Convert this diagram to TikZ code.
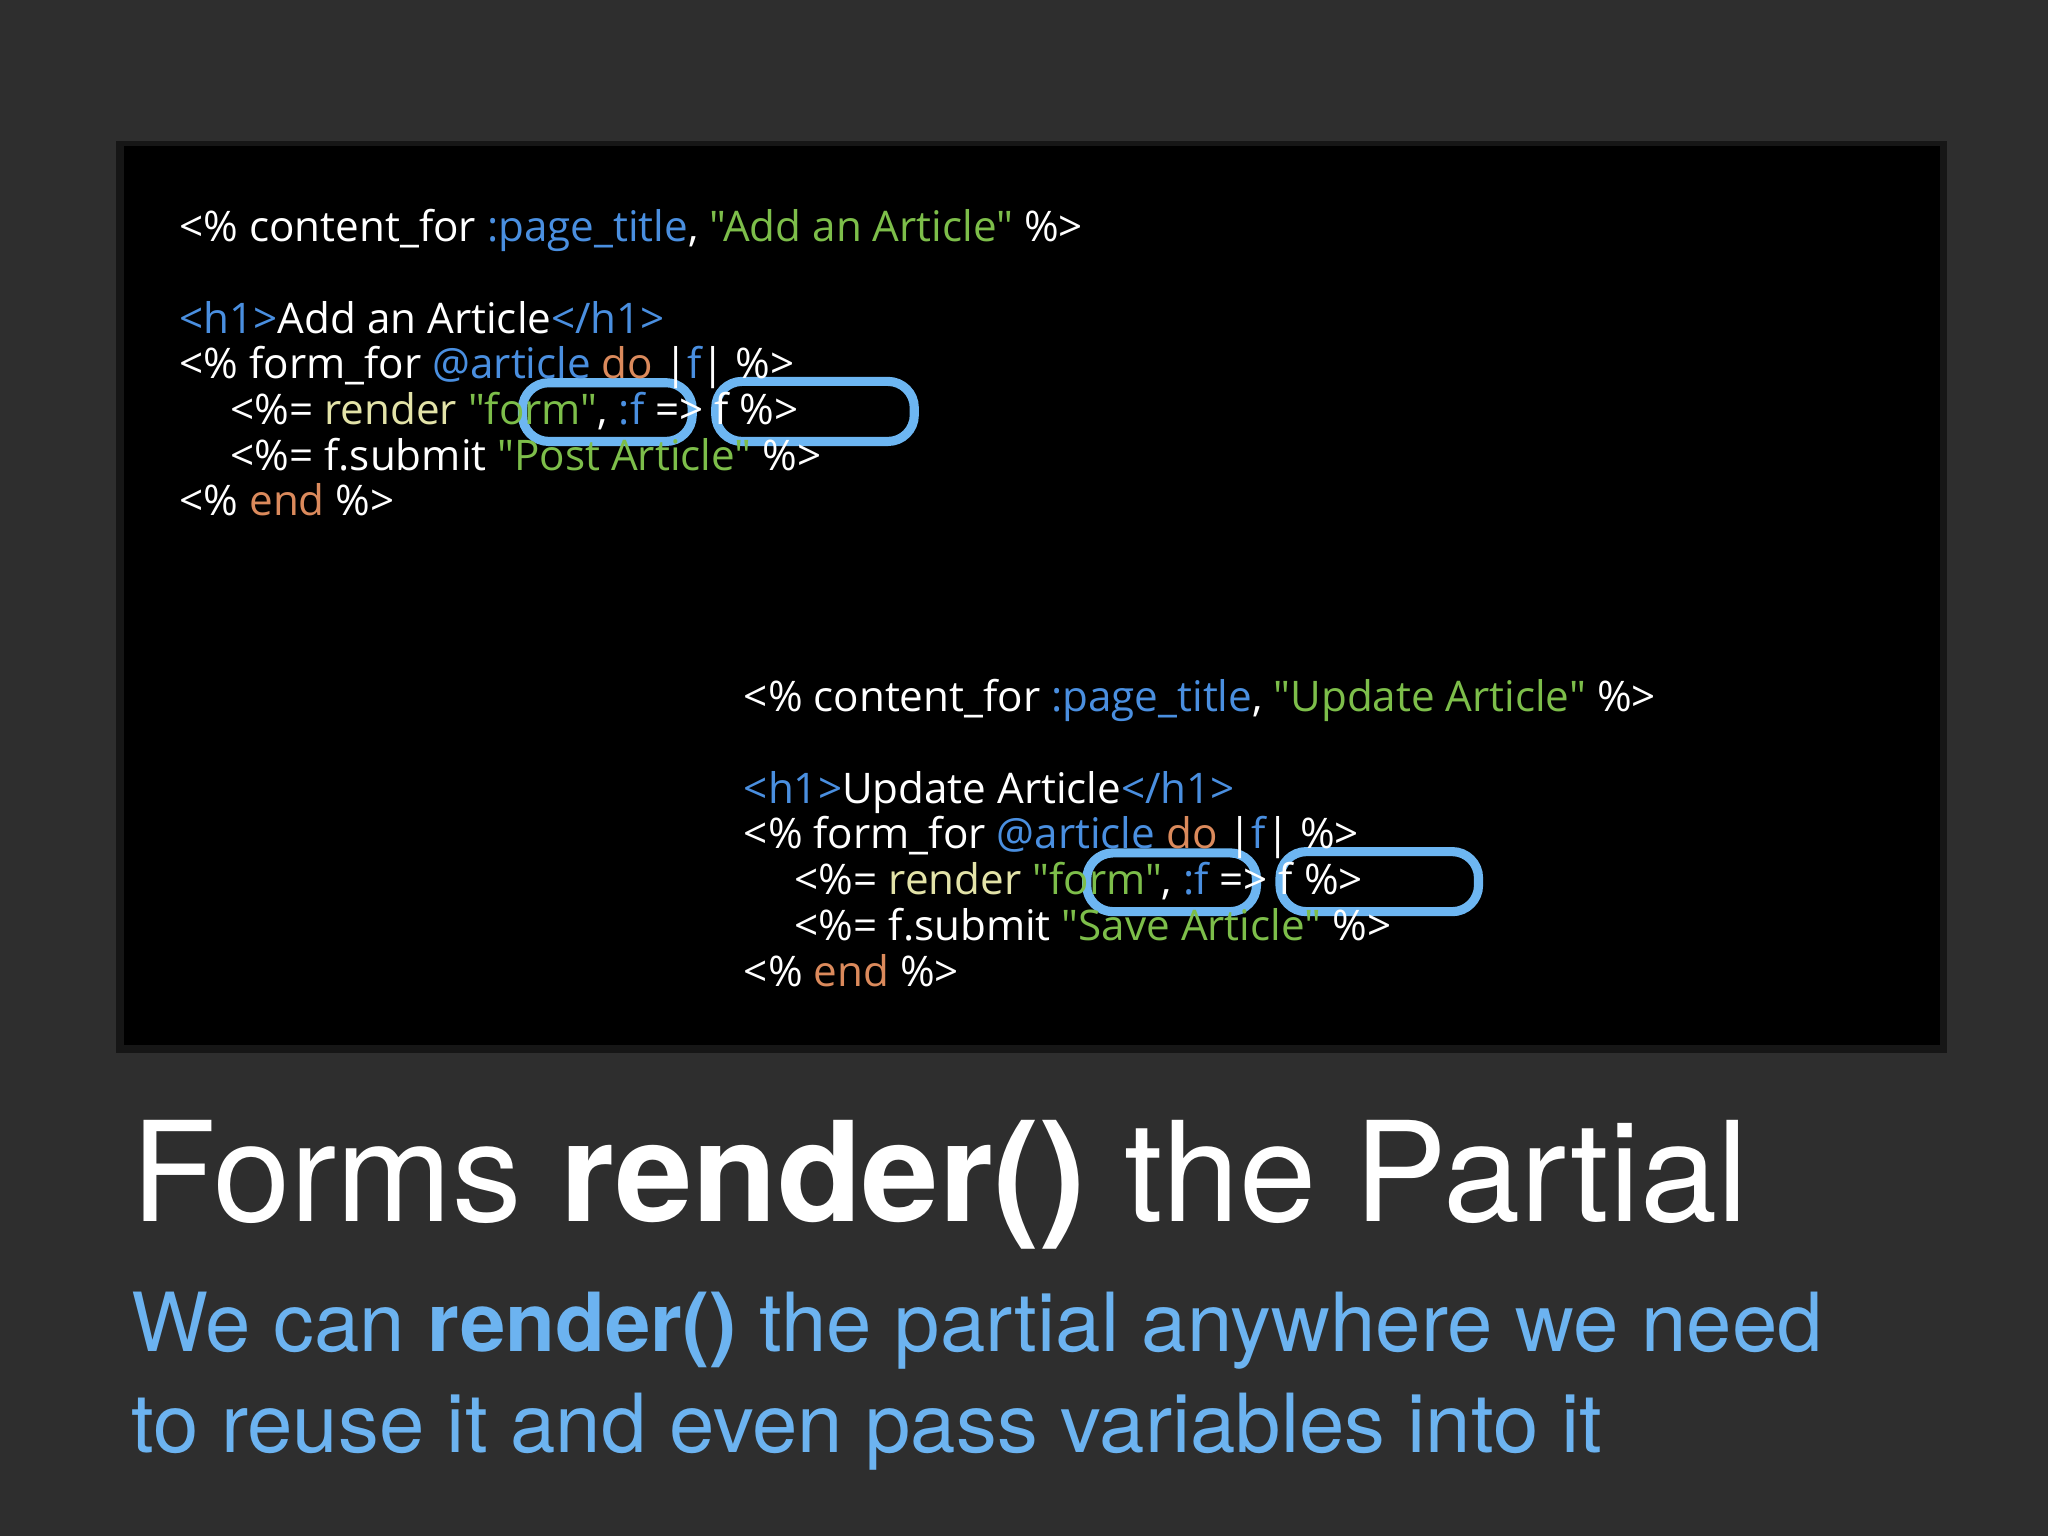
\documentclass[tikz,border=0pt]{standalone}
\usepackage{fontspec}
\setmainfont{Liberation Sans}
\newfontfamily\codefont{Open Sans}
\newfontfamily\titlefont{TeX Gyre Heros}
\definecolor{kblue}{HTML}{4A8FE0}
\definecolor{kgreen}{HTML}{7DBE4A}
\definecolor{korange}{HTML}{DB8A5C}
\definecolor{kyellow}{HTML}{E3E3A8}
\definecolor{oval}{HTML}{6DB6F2}
\definecolor{sub}{HTML}{6CB3F0}
\newcommand{\kb}[1]{\textcolor{kblue}{#1}}
\newcommand{\kg}[1]{\textcolor{kgreen}{#1}}
\newcommand{\ko}[1]{\textcolor{korange}{#1}}
\newcommand{\ky}[1]{\textcolor{kyellow}{#1}}
\begin{document}
\begin{tikzpicture}[x=0.013061cm,y=-0.013061cm,
  code/.style={anchor=base west,inner sep=0,text=white,font=\codefont\fontsize{12}{14}\selectfont},
  ring/.style={draw=oval,line width=2.6pt,rounded corners=7.5pt}]
\useasboundingbox (0,0) rectangle (1568,1176);
\fill[black!10!gray!40!black] (0,0) rectangle (1568,1176);
\fill[black,opacity=0.5] (89,108) rectangle (1491,806);
\fill[black] (95,112) rectangle (1485,800);
\foreach \dx/\dy/\t/\s in {0/0/Add an Article/Post Article,432/360/Update Article/Save Article}{
 \begin{scope}[shift={(\dx,\dy)}]
 \draw[ring] (400,293) rectangle (530,338);
 \draw[ring] (548,292) rectangle (700,338);
 \node[code] (l1) at (137,185) {<\% content\_for \kb{:page\_title}, \kg{"\t"} \%>};
 \node[code] (l2) at (137,255) {\kb{<h1>}\t\kb{</h1>}};
 \node[code] (l3) at (137,290) {<\% form\_for \kb{@article} \ko{do} |\kb{f}| \%>};
 \node[code] (l4) at (176,325) {<\%= \ky{render} \kg{"form"}, \kb{:f} => f \%>};
 \node[code] (l5) at (176,360) {<\%= f.submit \kg{"\s"} \%>};
 \node[code] (l6) at (137,395) {<\% \ko{end} \%>};
 \end{scope}}
\node[anchor=base west,inner sep=0,text=white,font=\titlefont\fontsize{39.5}{44}\selectfont] (title) at (100,935) {Forms \textbf{render()} the Partial};
\node[anchor=base west,inner sep=0,text=sub,font=\titlefont\fontsize{23.2}{28}\selectfont] (s1) at (100,1035) {We can \textbf{render()} the partial anywhere we need};
\node[anchor=base west,inner sep=0,text=sub,font=\titlefont\fontsize{23.2}{28}\selectfont] (s2) at (100,1112) {to reuse it and even pass variables into it};
\end{tikzpicture}
\end{document}
